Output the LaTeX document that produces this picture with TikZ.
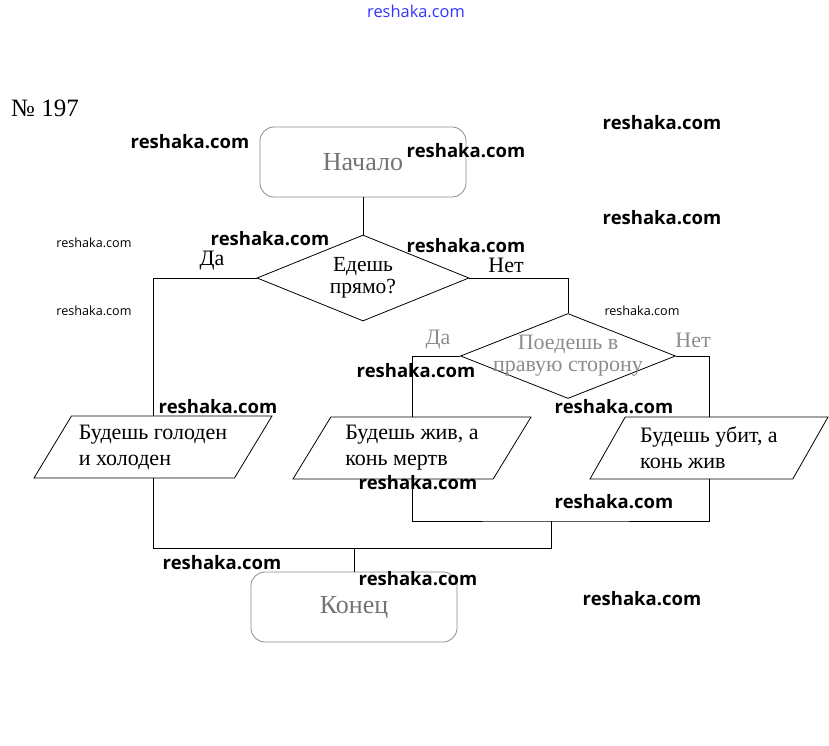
\documentclass[tikz,border=0pt]{standalone}
\usepackage{fontspec}
\setmainfont{Liberation Serif}
\newfontfamily\wmfont{Open Sans}
\usetikzlibrary{shapes,shapes.geometric,calc}

\begin{document}
\begin{tikzpicture}
	[x=1pt,y=-1pt,-,line width=0.8pt,
	every node/.style={font=\fontsize{22}{26}\selectfont},
	term/.style={draw=black!45,rounded corners=14pt,minimum width=206pt,
		minimum height=70pt,text=black!55,font=\fontsize{26}{30}\selectfont},
	decision/.style={shape=diamond,draw,inner sep=0pt,align=center,aspect=2.5},
	io/.style={shape=trapezium,trapezium left angle=50,trapezium right angle=130,
		trapezium stretches body,draw,minimum width=238pt,minimum height=62pt,
		inner sep=0pt,align=left},
	faded/.style={text=black!45},
	wm/.style={font=\wmfont\bfseries\fontsize{18.5}{20}\selectfont},
	wmsmall/.style={font=\wmfont\fontsize{12.6}{14}\selectfont}]
	\useasboundingbox (0,0) rectangle (829,746);
	
	\node[font=\fontsize{25}{28}\selectfont] (num) at (45,108) {№ 197};
	\node[term] (start) at (363,162) {Начало};
	\node[decision,minimum width=212pt,minimum height=86pt,
		font=\fontsize{21.5}{22}\selectfont] (q1) at (363,278) {Едешь\\прямо?};
	\node[decision,minimum width=215pt,minimum height=85pt] (q2) at (568,356) {};
	\node[faded,align=center,font=\fontsize{22}{22}\selectfont] (q2t) at (q2.center) {Поедешь в\\правую сторону};
	
	\node[io] (p1) at (153,447) {Будешь голоден\\и холоден};
	\node[io] (p2) at (412,448) {Будешь жив, а\\конь мертв};
	\node[io] (p3) at (709,448) {Будешь убит, а\\конь жив};
	\node[term] (end) at (354,607) {Конец};
	
	% answers
	\node (yes1) at (212,261) {Да};
	\node (no1) at (506,265) {Нет};
	\node[faded] (yes2) at (438,340) {Да};
	\node[faded] (no2) at (693,340) {Нет};
	
	\coordinate (j1) at (551,521);
	\coordinate (j3) at (551,548);
	\coordinate (j2) at (354,548);
	
	\draw (start) -- (q1);
	\draw (q1.west) -| (p1);
	\draw (q1.east) -| (q2.north);
	\draw (q2.west) -| (p2);
	\draw (q2.east) -| (p3);
	\draw (p2) |- (j1) -| (p3);
	\draw (p1) |- (j3) -- (j1);
	\draw (j2) -- (end);
	
	% watermarks
	\node[font=\wmfont\fontsize{16.4}{18}\selectfont,text=blue!80] (wmtop) at (416,11) {reshaka.com};
	\foreach \x/\y [count=\i] in {190/142, 466/151, 662/123, 662/218, 270/239,
		466/246, 416/371, 218/407, 614/407, 418/483, 614/502, 222/563, 418/579, 642/599}
	{
		\node[wm] (wm\i) at (\x,\y) {reshaka.com};
	}
	\foreach \x/\y [count=\i] in {94/243, 94/311, 642/311}
	{
		\node[wmsmall] (wms\i) at (\x,\y) {reshaka.com};
	}
\end{tikzpicture}
\end{document}
